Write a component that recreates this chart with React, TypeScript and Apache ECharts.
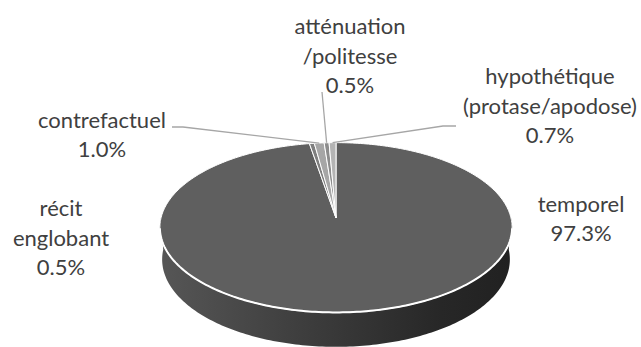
import React, { useEffect, useRef } from "react";
import * as echarts from "echarts";

// Shares per category (percent), in drawing order clockwise from 12 o'clock
const categories = [
  "temporel",
  "récit\nenglobant",
  "contrefactuel",
  "atténuation\n/politesse",
  "hypothétique\n(protase/apodose)",
];
const shares = [97.3, 0.5, 1.0, 0.5, 0.7];
const sliceColors = ["#5f5f5f", "#7f7f7f", "#a6a6a6", "#8c8c8c", "#b4b4b4"];

// Manual label placement (label centre + optional leader bends, label side last)
const labelLayout: { x: number; y: number; leader: number[][] }[] = [
  { x: 581, y: 218, leader: [] },
  { x: 61, y: 237, leader: [] },
  { x: 102, y: 134, leader: [[183, 127], [172, 127]] },
  { x: 350, y: 55, leader: [[322, 92]] },
  { x: 550, y: 105, leader: [[443, 126], [456, 126]] },
];

// Perspective view of the disc (camera distance = 1)
const VIEW = {
  cx: 336,
  cy: 218,
  halfWidth: 175,
  R: 0.128,
  sinE: 0.479,
  cosE: 0.878,
  depth: 0.0268,
};

function project(thetaDeg: number, bottom: boolean): number[] {
  const t = (thetaDeg * Math.PI) / 180;
  const { cx, cy, halfWidth, R, sinE, cosE, depth } = VIEW;
  const f = halfWidth / R;
  const X = R * Math.sin(t);
  const Y = R * Math.cos(t);
  const Z = bottom ? -depth : 0;
  const xc = X;
  const yc = Y * sinE + Z * cosE;
  const zc = 1 + Y * cosE - Z * sinE;
  return [cx + (f * xc) / zc, cy - (f * yc) / zc];
}

function arc(a0: number, a1: number, bottom: boolean): number[][] {
  const n = Math.max(2, Math.ceil(Math.abs(a1 - a0)));
  const pts: number[][] = [];
  for (let i = 0; i <= n; i++) pts.push(project(a0 + ((a1 - a0) * i) / n, bottom));
  return pts;
}

const total = shares.reduce((s, v) => s + v, 0);
const starts: number[] = [];
shares.reduce((acc, v) => {
  starts.push((acc / total) * 360);
  return acc + v;
}, 0);

const FONT = "Lato, 'Open Sans', sans-serif";

export default function App() {
  const ref = useRef<HTMLDivElement>(null);

  useEffect(() => {
    if (!ref.current) return;
    const chart = echarts.init(ref.current, undefined, { renderer: "svg" });

    const sideFill = new echarts.graphic.LinearGradient(
      160,
      0,
      512,
      0,
      [
        { offset: 0, color: "#565656" },
        { offset: 0.45, color: "#3b3b3b" },
        { offset: 0.8, color: "#272727" },
        { offset: 1, color: "#212121" },
      ],
      true
    );

    chart.setOption({
      animation: false,
      backgroundColor: "#ffffff",
      series: [
        {
          type: "custom",
          coordinateSystem: "none",
          silent: true,
          data: shares.map((v, i) => ({ value: v, name: categories[i] })),
          renderItem: (params: any, api: any) => {
            const i = params.dataIndex;
            const v = api.value(0) as number;
            const a0 = starts[i];
            const a1 = a0 + (v / total) * 360;
            const children: any[] = [];

            // front wall of the disc
            const s0 = Math.max(a0, 90);
            const s1 = Math.min(a1, 270);
            if (s1 > s0) {
              const top = arc(s0, s1, false);
              const bot = arc(s1, s0, true);
              children.push({
                type: "polygon",
                z2: 1,
                shape: { points: top.concat(bot) },
                style: { fill: sideFill, stroke: null },
              });
            }

            // top face
            const centre = project(0, false);
            children.push({
              type: "polygon",
              z2: 5,
              shape: { points: [[VIEW.cx, VIEW.cy]].concat(arc(a0, a1, false)) },
              style: {
                fill: sliceColors[i],
                stroke: "#ffffff",
                lineWidth: 1,
                lineJoin: "round",
              },
            });
            void centre;

            // bright rim along the front edge
            const r0 = Math.max(a0, 97);
            const r1 = Math.min(a1, 263);
            if (r1 > r0) {
              children.push({
                type: "polyline",
                z2: 6,
                shape: { points: arc(r0, r1, false) },
                style: { stroke: "#ffffff", lineWidth: 2, fill: null },
              });
            }

            // leader line
            const lay = labelLayout[i];
            if (lay.leader.length) {
              const mid = project((a0 + a1) / 2, false);
              children.push({
                type: "polyline",
                z2: 7,
                shape: { points: [mid].concat(lay.leader) },
                style: { stroke: "#a6a6a6", lineWidth: 1.3, fill: null },
              });
            }

            // label
            children.push({
              type: "text",
              z2: 8,
              x: lay.x,
              y: lay.y,
              style: {
                text: categories[i] + "\n" + v.toFixed(1) + "%",
                fontFamily: FONT,
                fontSize: 22,
                lineHeight: 29.5,
                fill: "#404040",
                align: "center",
                verticalAlign: "middle",
              },
            });

            return { type: "group", children };
          },
        },
      ],
    });

    return () => chart.dispose();
  }, []);

  return (
    <div
      ref={ref}
      style={{ position: "fixed", left: 0, top: 0, width: 641, height: 347, background: "#fff" }}
    />
  );
}
